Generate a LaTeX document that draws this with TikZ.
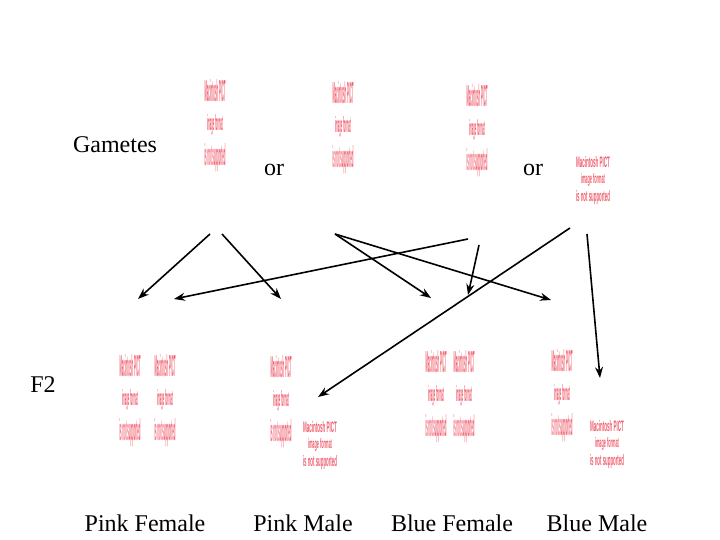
\documentclass[tikz,border=0pt]{standalone}
\usepackage{fontspec}
\setmainfont{Liberation Serif}
\newfontfamily\pictfont{Liberation Sans}
\usetikzlibrary{arrows.meta}
\definecolor{pinkc}{RGB}{238,95,110}
\tikzset{
  lbl/.style={font=\fontsize{24}{28}\selectfont, inner sep=0pt},
  pict/.style={text=pinkc, inner sep=0pt, font=\pictfont\bfseries},
  arr/.style={line width=1.6pt, -{Stealth[length=11pt,width=8pt]}}
}
% tall chromosome placeholder: x centre, top y, name
\newcommand\xchrom[3]{%
  \node[pict] (#3a) at ({#1},{#2+11}) {\resizebox{21pt}{22pt}{Macintosh PICT}};
  \node[pict] (#3b) at ({#1},{#2+45}) {\resizebox{16pt}{16pt}{image format}};
  \node[pict] (#3c) at ({#1},{#2+78}) {\resizebox{21pt}{22pt}{is not supported}};
}
% short chromosome placeholder: x centre, y centre, name
\newcommand\ychrom[3]{%
  \node[pict] (#3a) at ({#1},{#2-18}) {\resizebox{34pt}{11pt}{Macintosh PICT}};
  \node[pict] (#3b) at ({#1},{#2}) {\resizebox{24pt}{10pt}{image format}};
  \node[pict] (#3c) at ({#1},{#2+18}) {\resizebox{34pt}{11pt}{is not supported}};
}
\begin{document}
\begin{tikzpicture}[x=1pt,y=-1pt]
\useasboundingbox (0,0) rectangle (720,540);
% texts
\node[lbl] (gam) at (115,145) {Gametes};
\node[lbl] (or1) at (274,170) {or};
\node[lbl] (or2) at (533,170) {or};
\node[lbl] (f2) at (43,385) {F2};
\node[lbl] (pf) at (145,523) {Pink Female};
\node[lbl] (pm) at (303,523) {Pink Male};
\node[lbl] (bf) at (452,523) {Blue Female};
\node[lbl] (bm) at (597,523) {Blue Male};
% gametes
\xchrom{215}{80}{g1}
\xchrom{343}{82}{g2}
\xchrom{477}{85}{g3}
\ychrom{593}{180}{g4}
% F2
\xchrom{130}{355}{pfx1}
\xchrom{165}{355}{pfx2}
\xchrom{281}{356}{pmx}
\ychrom{320}{445}{pmy}
\xchrom{436}{351}{bfx1}
\xchrom{464}{351}{bfx2}
\xchrom{562}{350}{bmx}
\ychrom{607}{444}{bmy}
% arrow ends
\coordinate (s1) at (210,234);
\coordinate (e1) at (138,299);
\coordinate (s2) at (222,234);
\coordinate (e2) at (281,299);
\coordinate (s3) at (468,239);
\coordinate (e3) at (174,299);
\coordinate (s4) at (335,234);
\coordinate (e4) at (431,298);
\coordinate (e5) at (551,300);
\coordinate (s6) at (479,245);
\coordinate (e6) at (468,295);
\coordinate (s7) at (570,228);
\coordinate (e7) at (318,397);
\coordinate (s8) at (587,234);
\coordinate (e8) at (600,378);
\draw[arr] (s1) -- (e1);
\draw[arr] (s2) -- (e2);
\draw[arr] (s3) -- (e3);
\draw[arr] (s4) -- (e4);
\draw[arr] (s4) -- (e5);
\draw[arr] (s6) -- (e6);
\draw[arr] (s7) -- (e7);
\draw[arr] (s8) -- (e8);
\end{tikzpicture}
\end{document}
